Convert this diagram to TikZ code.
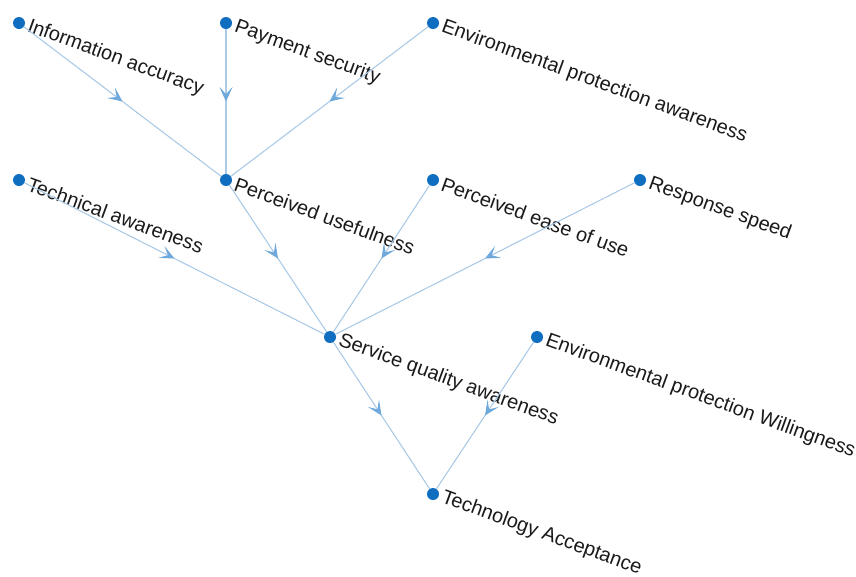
\documentclass[tikz,border=0pt]{standalone}
\usepackage{fontspec}
\setmainfont{Liberation Sans}
\usepackage{tikz}
\usepackage{xcolor}
\usetikzlibrary{arrows.meta,decorations.markings}
\definecolor{dotblue}{HTML}{0F6EBF}
\definecolor{edgeblue}{HTML}{A9C9E6}
\definecolor{tipblue}{HTML}{6FA9DB}
\definecolor{labelink}{HTML}{1A1A1A}
\tikzset{
  dotNode/.style={circle, fill=dotblue, minimum size=9pt, inner sep=0pt},
  labelText/.style={rotate=-20, anchor=west, inner sep=2.5pt, text=labelink, font=\fontsize{15}{17}\selectfont},
  edgeLine/.style={draw=edgeblue, line width=0.8pt, postaction={decorate},
    decoration={markings, mark=at position 0.5 with {\arrow[tipblue]{Stealth[length=11pt, width=10pt, inset=5.5pt]}}}}
}

\begin{document}
\begin{tikzpicture}[x=0.75pt, y=-0.75pt]
  \useasboundingbox (0,0) rectangle (856,576);
  % top row
  \node[dotNode, label={[labelText]-20:Information accuracy}] (info) at (19,23) {};
  \node[dotNode, label={[labelText]-20:Payment security}] (payment) at (226,23) {};
  \node[dotNode, label={[labelText]-20:Environmental protection awareness}] (envaware) at (433,23) {};
  % second row
  \node[dotNode, label={[labelText]-20:Technical awareness}] (technical) at (19,180) {};
  \node[dotNode, label={[labelText]-20:Perceived usefulness}] (useful) at (226,180) {};
  \node[dotNode, label={[labelText]-20:Perceived ease of use}] (ease) at (433,180) {};
  \node[dotNode, label={[labelText]-20:Response speed}] (speed) at (640,180) {};
  % third row
  \node[dotNode, label={[labelText]-20:Service quality awareness}] (service) at (330,337) {};
  \node[dotNode, label={[labelText]-20:Environmental protection Willingness}] (willing) at (537,337) {};
  % bottom
  \node[dotNode, label={[labelText]-20:Technology Acceptance}] (accept) at (433,494) {};

  \draw[edgeLine] (info) -- (useful);
  \draw[edgeLine] (payment) -- (useful);
  \draw[edgeLine] (envaware) -- (useful);
  \draw[edgeLine] (useful) -- (service);
  \draw[edgeLine] (technical) -- (service);
  \draw[edgeLine] (ease) -- (service);
  \draw[edgeLine] (speed) -- (service);
  \draw[edgeLine] (service) -- (accept);
  \draw[edgeLine] (willing) -- (accept);
\end{tikzpicture}
\end{document}
